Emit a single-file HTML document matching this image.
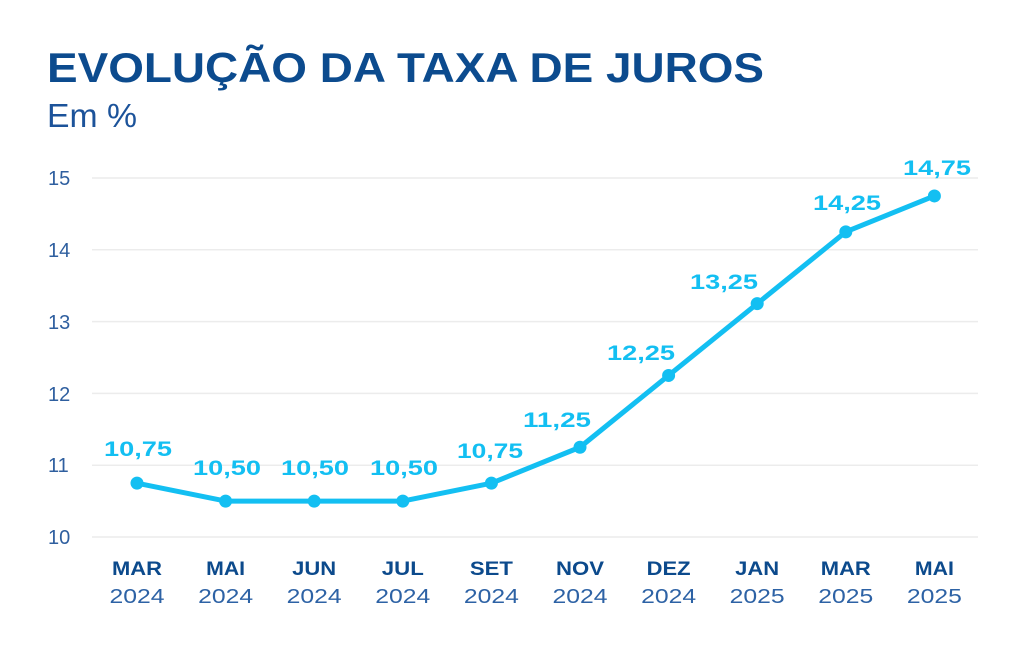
<!DOCTYPE html>
<html>
<head>
<meta charset="utf-8">
<style>
  html, body { margin:0; padding:0; background:#ffffff; }
  svg { display:block; }
  text { font-family: "Liberation Sans", "DejaVu Sans", sans-serif; }
</style>
</head>
<body>
<svg width="1024" height="649" viewBox="0 0 1024 649" xmlns="http://www.w3.org/2000/svg">
  <rect width="1024" height="649" fill="#ffffff"/>
  <!-- Title -->
  <text x="47" y="82" font-size="42" font-weight="bold" fill="#0c4b8e" textLength="717" lengthAdjust="spacingAndGlyphs">EVOLUÇÃO DA TAXA DE JUROS</text>
  <text x="47" y="127" font-size="33" fill="#1c539a" textLength="90" lengthAdjust="spacingAndGlyphs">Em %</text>

  <!-- Gridlines -->
  <g stroke="#ececec" stroke-width="1.5">
    <line x1="92" y1="178" x2="978" y2="178"/>
    <line x1="92" y1="249.8" x2="978" y2="249.8"/>
    <line x1="92" y1="321.6" x2="978" y2="321.6"/>
    <line x1="92" y1="393.4" x2="978" y2="393.4"/>
    <line x1="92" y1="465.2" x2="978" y2="465.2"/>
    <line x1="92" y1="537" x2="978" y2="537"/>
  </g>

  <!-- Y tick labels -->
  <g font-size="20" fill="#2f5f9f">
    <text x="48" y="185">15</text>
    <text x="48" y="257">14</text>
    <text x="48" y="329">13</text>
    <text x="48" y="401">12</text>
    <text x="48" y="472">11</text>
    <text x="48" y="544">10</text>
  </g>

  <!-- Line -->
  <polyline fill="none" stroke="#13bff2" stroke-width="5" stroke-linejoin="round" stroke-linecap="round"
    points="137,483.15 225.6,501.1 314.2,501.1 402.8,501.1 491.4,483.15 580,447.25 668.6,375.45 757.2,303.65 845.8,231.85 934.4,195.95"/>
  <g fill="#13bff2">
    <circle cx="137" cy="483.15" r="6.5"/>
    <circle cx="225.6" cy="501.1" r="6.5"/>
    <circle cx="314.2" cy="501.1" r="6.5"/>
    <circle cx="402.8" cy="501.1" r="6.5"/>
    <circle cx="491.4" cy="483.15" r="6.5"/>
    <circle cx="580" cy="447.25" r="6.5"/>
    <circle cx="668.6" cy="375.45" r="6.5"/>
    <circle cx="757.2" cy="303.65" r="6.5"/>
    <circle cx="845.8" cy="231.85" r="6.5"/>
    <circle cx="934.4" cy="195.95" r="6.5"/>
  </g>

  <!-- Data labels -->
  <g font-size="21" font-weight="bold" fill="#13bff2" text-anchor="middle">
    <text x="138" y="456" textLength="68" lengthAdjust="spacingAndGlyphs">10,75</text>
    <text x="227" y="475" textLength="68" lengthAdjust="spacingAndGlyphs">10,50</text>
    <text x="315" y="475" textLength="68" lengthAdjust="spacingAndGlyphs">10,50</text>
    <text x="404" y="475" textLength="68" lengthAdjust="spacingAndGlyphs">10,50</text>
    <text x="490" y="458" textLength="66" lengthAdjust="spacingAndGlyphs">10,75</text>
    <text x="557" y="427" textLength="68" lengthAdjust="spacingAndGlyphs">11,25</text>
    <text x="641" y="360" textLength="68" lengthAdjust="spacingAndGlyphs">12,25</text>
    <text x="724" y="289" textLength="68" lengthAdjust="spacingAndGlyphs">13,25</text>
    <text x="847" y="210" textLength="68" lengthAdjust="spacingAndGlyphs">14,25</text>
    <text x="937" y="175" textLength="68" lengthAdjust="spacingAndGlyphs">14,75</text>
  </g>

  <!-- X labels: months -->
  <g font-size="19" font-weight="bold" fill="#0c4a8c" text-anchor="middle">
    <text x="137" y="575" textLength="50" lengthAdjust="spacingAndGlyphs">MAR</text>
    <text x="225.6" y="575" textLength="39" lengthAdjust="spacingAndGlyphs">MAI</text>
    <text x="314.2" y="575" textLength="44" lengthAdjust="spacingAndGlyphs">JUN</text>
    <text x="402.8" y="575" textLength="42" lengthAdjust="spacingAndGlyphs">JUL</text>
    <text x="491.4" y="575" textLength="43" lengthAdjust="spacingAndGlyphs">SET</text>
    <text x="580" y="575" textLength="48" lengthAdjust="spacingAndGlyphs">NOV</text>
    <text x="668.6" y="575" textLength="44" lengthAdjust="spacingAndGlyphs">DEZ</text>
    <text x="757.2" y="575" textLength="44" lengthAdjust="spacingAndGlyphs">JAN</text>
    <text x="845.8" y="575" textLength="50" lengthAdjust="spacingAndGlyphs">MAR</text>
    <text x="934.4" y="575" textLength="39" lengthAdjust="spacingAndGlyphs">MAI</text>
  </g>
  <!-- X labels: years -->
  <g font-size="20.5" fill="#2d62a5" text-anchor="middle">
    <text x="137" y="603" textLength="55" lengthAdjust="spacingAndGlyphs">2024</text>
    <text x="225.6" y="603" textLength="55" lengthAdjust="spacingAndGlyphs">2024</text>
    <text x="314.2" y="603" textLength="55" lengthAdjust="spacingAndGlyphs">2024</text>
    <text x="402.8" y="603" textLength="55" lengthAdjust="spacingAndGlyphs">2024</text>
    <text x="491.4" y="603" textLength="55" lengthAdjust="spacingAndGlyphs">2024</text>
    <text x="580" y="603" textLength="55" lengthAdjust="spacingAndGlyphs">2024</text>
    <text x="668.6" y="603" textLength="55" lengthAdjust="spacingAndGlyphs">2024</text>
    <text x="757.2" y="603" textLength="55" lengthAdjust="spacingAndGlyphs">2025</text>
    <text x="845.8" y="603" textLength="55" lengthAdjust="spacingAndGlyphs">2025</text>
    <text x="934.4" y="603" textLength="55" lengthAdjust="spacingAndGlyphs">2025</text>
  </g>
</svg>
</body>
</html>
